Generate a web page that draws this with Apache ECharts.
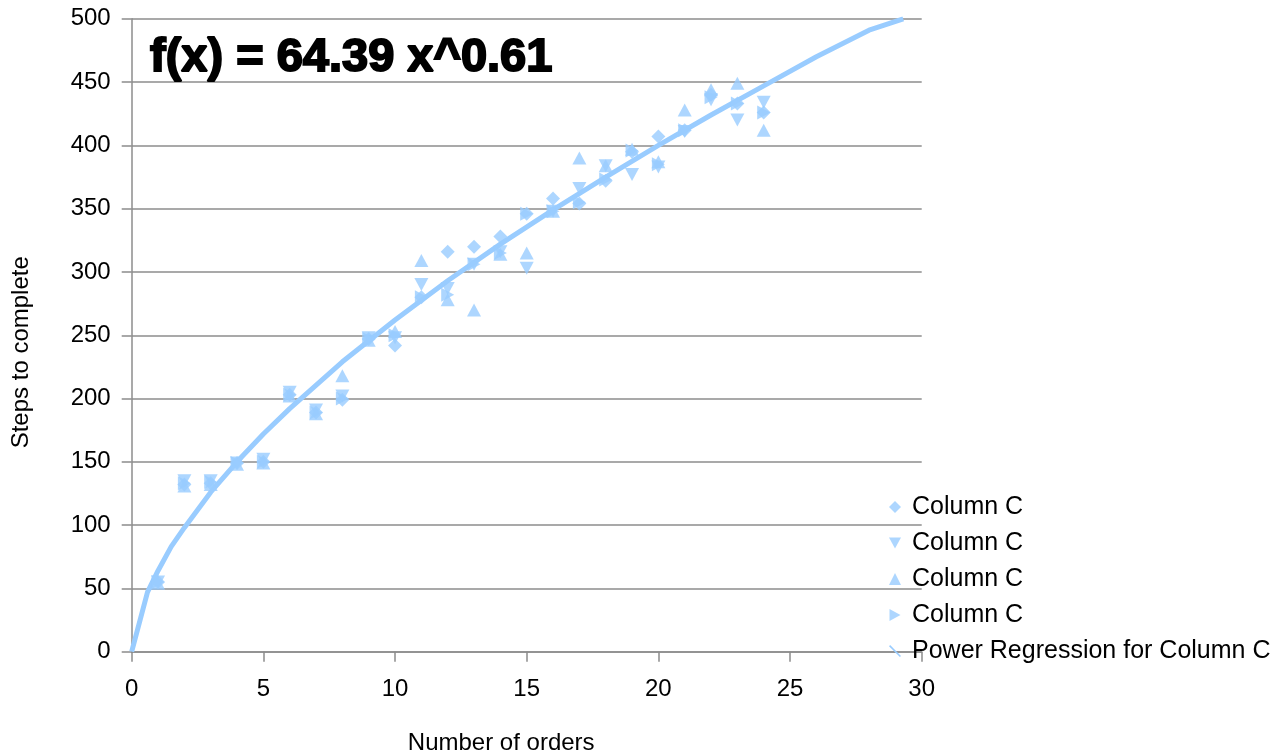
<!DOCTYPE html>
<html>
<head>
<meta charset="utf-8">
<script src="https://cdn.jsdelivr.net/npm/echarts@6/dist/echarts.min.js"></script>
<style>html,body{margin:0;padding:0;background:#fff}#c{width:1287px;height:756px}</style>
</head>
<body>
<div id="c"></div>
<script>
// ---- data ----
const orders   = [1,2,3,4,5,6,7,8,9,10,11,12,13,14,15,16,17,18,19,20,21,22,23,24];
const colC_a   = [55,132,133,149,150,203,189,199,247,242,280,316,320,328,346,358,354,372,395,407,412,440,433,426]; // diamonds
const colC_b   = [55,135,135,149,152,205,191,202,248,248,290,287,306,316,303,348,366,384,377,383,411,436,420,434]; // down triangles
const colC_c   = [54,131,132,148,149,202,188,218,246,253,309,278,270,314,315,348,390,384,397,387,428,444,449,412]; // up triangles
const colC_d   = [55,133,134,149,150,203,189,200,247,250,280,282,306,315,346,348,355,373,396,385,412,438,433,426]; // right triangles
const regX     = [0,0.6,1,1.5,2,3,4,5,6,8,10,12,14,16,18,20,22,24,26,28,29.3];
const regY     = [0,47,64,83,98,126,150,172,192,229,262,293,322,349,375,400,424,447,470,491,500];
const seriesNames  = ['c1','c2','c3','c4','reg'];
const legendLabels = ['Column C','Column C','Column C','Column C','Power Regression for Column C'];
const formulaText  = 'f(x) = 64.39 x^0.61';
const xTitle = 'Number of orders';
const yTitle = 'Steps to complete';

const FONT = '"Liberation Sans", Arial, sans-serif';
const BLUE = '#99ccff';
const GRID = '#8c8c8c';

const pairs = ys => orders.map((x, i) => [x, ys[i]]);
const labelOf = {};
seriesNames.forEach((n, i) => labelOf[n] = legendLabels[i]);

const ICON_DOWN  = 'path://M0,0 L12,0 L6,11 Z';
const ICON_RIGHT = 'path://M0,0 L11,6 L0,12 Z';
const ICON_LINE  = 'path://M0,1.5 L1.5,0 L16,14.5 L14.5,16 Z';

const chart = echarts.init(document.getElementById('c'), null, {renderer: 'canvas'});
chart.setOption({
  animation: false,
  backgroundColor: '#fff',
  color: [BLUE],
  grid: {left: 131.7, right: 365.3, top: 18.8, bottom: 104.3, containLabel: false, outerBoundsMode: 'none'},
  xAxis: {
    type: 'value', min: 0, max: 30, interval: 5,
    name: xTitle, nameLocation: 'middle', nameGap: 80,
    nameTextStyle: {fontFamily: FONT, fontSize: 24, color: '#000', padding: [0, 51, 0, 0]},
    axisLine: {show: true, lineStyle: {color: GRID, width: 1.5}},
    axisTick: {show: true, inside: false, length: 10, lineStyle: {color: GRID, width: 1.5}},
    axisLabel: {fontFamily: FONT, fontSize: 24, color: '#000', margin: 26},
    splitLine: {show: false}
  },
  yAxis: {
    type: 'value', min: 0, max: 500, interval: 50,
    name: yTitle, nameLocation: 'middle', nameGap: 98,
    nameTextStyle: {fontFamily: FONT, fontSize: 24, color: '#000', padding: [0, 34, 0, 0]},
    axisLine: {show: true, lineStyle: {color: GRID, width: 1.5}},
    axisTick: {show: true, inside: false, length: 10, lineStyle: {color: GRID, width: 1.5}},
    axisLabel: {fontFamily: FONT, fontSize: 24, color: '#000', margin: 21},
    splitLine: {show: true, lineStyle: {color: GRID, width: 1.5}}
  },
  legend: {
    orient: 'vertical', left: 884, top: 489.5, itemWidth: 12, itemHeight: 12, itemGap: 11,
    formatter: n => labelOf[n],
    textStyle: {fontFamily: FONT, fontSize: 25, color: '#000', lineHeight: 25, padding: [0, 0, 0, 6]},
    selectedMode: false,
    data: [
      {name: 'c1', icon: 'diamond'},
      {name: 'c2', icon: ICON_DOWN},
      {name: 'c3', icon: 'triangle'},
      {name: 'c4', icon: ICON_RIGHT},
      {name: 'reg', icon: ICON_LINE}
    ]
  },
  graphic: [{
    type: 'text', x: 150, y: 58, z: 100,
    style: {text: formulaText, font: 'bold 47px ' + FONT, fill: '#000', stroke: '#000', lineWidth: 2,
            align: 'left', verticalAlign: 'middle'}
  }],
  series: [
    {name: 'c1', type: 'scatter', data: pairs(colC_a), symbol: 'diamond', symbolSize: [14, 14], itemStyle: {color: BLUE}, z: 3},
    {name: 'c2', type: 'scatter', data: pairs(colC_b), symbol: 'triangle', symbolRotate: 180, symbolSize: [14, 13], itemStyle: {color: BLUE}, z: 3},
    {name: 'c3', type: 'scatter', data: pairs(colC_c), symbol: 'triangle', symbolSize: [14, 13], itemStyle: {color: BLUE}, z: 3},
    {name: 'c4', type: 'scatter', data: pairs(colC_d), symbol: 'triangle', symbolRotate: -90, symbolSize: [14, 13], itemStyle: {color: BLUE}, z: 3},
    {name: 'reg', type: 'line', data: regX.map((x, i) => [x, regY[i]]), showSymbol: false, symbol: 'none',
     smooth: false, lineStyle: {color: BLUE, width: 5}, itemStyle: {color: BLUE}, z: 2, clip: true}
  ]
});
</script>
</body>
</html>
